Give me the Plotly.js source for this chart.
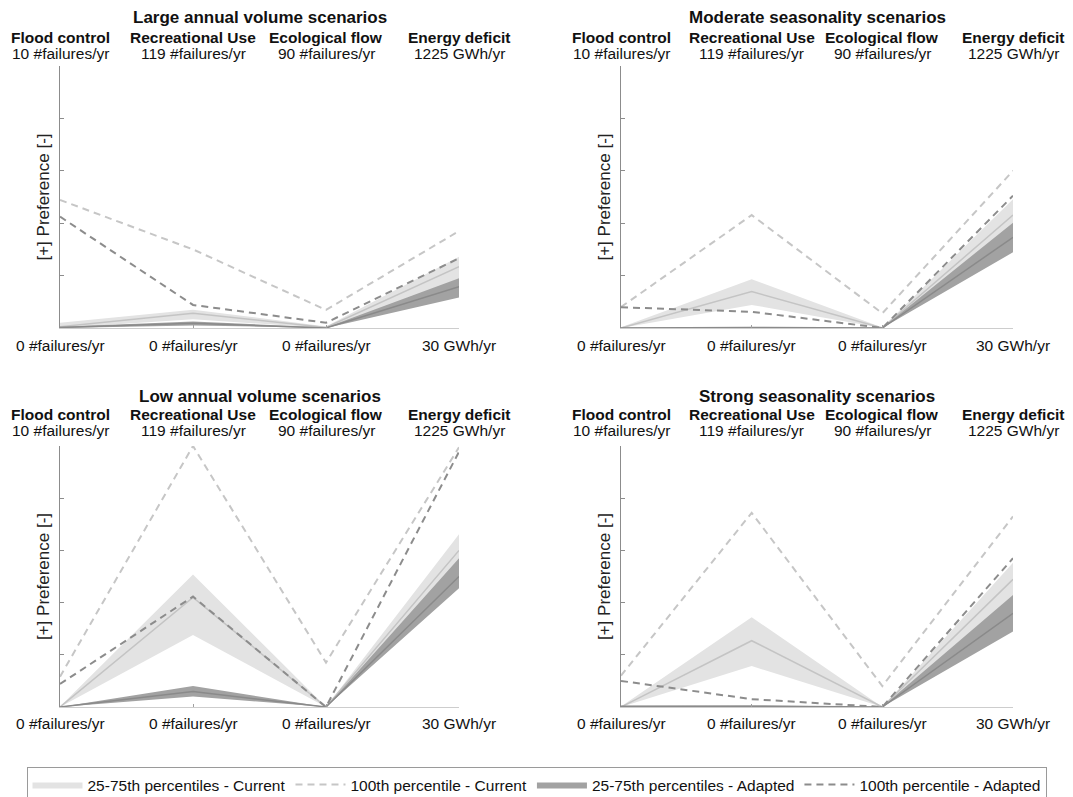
<!DOCTYPE html>
<html>
<head>
<meta charset="utf-8">
<script src="https://cdn.plot.ly/plotly-3.0.1.min.js"></script>
<style>
  html, body { margin: 0; padding: 0; background: #fff; }
  #chart { width: 1073px; height: 797px; }
</style>
</head>
<body>
<div id="chart"></div>
<script>
// Objectives shown on the four parallel axes
const objectiveNames = ['Flood control', 'Recreational Use', 'Ecological flow', 'Energy deficit'];
const objectiveWorst = ['10 #failures/yr', '119 #failures/yr', '90 #failures/yr', '1225 GWh/yr'];
const objectiveBest = ['0 #failures/yr', '0 #failures/yr', '0 #failures/yr', '30 GWh/yr'];
const axisPos = [0, 1, 2, 3];

const scenarioTitles = [
  'Large annual volume scenarios',
  'Moderate seasonality scenarios',
  'Low annual volume scenarios',
  'Strong seasonality scenarios'
];

// Normalised preference per objective: 25th / 50th / 75th / 100th percentiles
// Large annual volume
const largeCurP25 = [0.000, 0.033, 0.000, 0.145];
const largeCurP50 = [0.005, 0.056, 0.002, 0.234];
const largeCurP75 = [0.020, 0.070, 0.006, 0.272];
const largeCurMax = [0.489, 0.300, 0.069, 0.370];
const largeAdpP25 = [0.000, 0.010, 0.000, 0.116];
const largeAdpP50 = [0.002, 0.018, 0.000, 0.158];
const largeAdpP75 = [0.005, 0.025, 0.002, 0.190];
const largeAdpMax = [0.425, 0.088, 0.020, 0.266];

// Moderate seasonality
const modCurP25 = [0.000, 0.088, 0.000, 0.370];
const modCurP50 = [0.000, 0.139, 0.000, 0.431];
const modCurP75 = [0.003, 0.186, 0.002, 0.491];
const modCurMax = [0.080, 0.431, 0.056, 0.600];
const modAdpP25 = [0.000, 0.000, 0.000, 0.289];
const modAdpP50 = [0.000, 0.002, 0.000, 0.346];
const modAdpP75 = [0.002, 0.004, 0.001, 0.402];
const modAdpMax = [0.079, 0.062, 0.000, 0.505];

// Low annual volume
const lowCurP25 = [0.000, 0.276, 0.000, 0.460];
const lowCurP50 = [0.000, 0.420, 0.000, 0.600];
const lowCurP75 = [0.002, 0.508, 0.000, 0.662];
const lowCurMax = [0.116, 1.000, 0.170, 0.995];
const lowAdpP25 = [0.000, 0.040, 0.000, 0.455];
const lowAdpP50 = [0.000, 0.059, 0.000, 0.500];
const lowAdpP75 = [0.000, 0.080, 0.000, 0.570];
const lowAdpMax = [0.088, 0.423, 0.000, 0.978];

// Strong seasonality
const strongCurP25 = [0.000, 0.157, 0.000, 0.360];
const strongCurP50 = [0.000, 0.254, 0.000, 0.489];
const strongCurP75 = [0.002, 0.344, 0.000, 0.553];
const strongCurMax = [0.120, 0.744, 0.080, 0.730];
const strongAdpP25 = [0.000, 0.000, 0.000, 0.289];
const strongAdpP50 = [0.002, 0.003, 0.000, 0.359];
const strongAdpP75 = [0.006, 0.006, 0.001, 0.429];
const strongAdpMax = [0.100, 0.030, 0.000, 0.570];

const scenarios = [
  { cur: [largeCurP25, largeCurP50, largeCurP75, largeCurMax], adp: [largeAdpP25, largeAdpP50, largeAdpP75, largeAdpMax] },
  { cur: [modCurP25, modCurP50, modCurP75, modCurMax], adp: [modAdpP25, modAdpP50, modAdpP75, modAdpMax] },
  { cur: [lowCurP25, lowCurP50, lowCurP75, lowCurMax], adp: [lowAdpP25, lowAdpP50, lowAdpP75, lowAdpMax] },
  { cur: [strongCurP25, strongCurP50, strongCurP75, strongCurMax], adp: [strongAdpP25, strongAdpP50, strongAdpP75, strongAdpMax] }
];

const legendNames = [
  '25-75th percentiles - Current',
  '100th percentile - Current',
  '25-75th percentiles - Adapted',
  '100th percentile - Adapted'
];

// Style
const FONT = 'Liberation Sans, Arial, Helvetica, sans-serif';
const curFill = '#e3e3e3';
const curMedian = '#c4c4c4';
const curDash = '#c6c6c6';
const adpFill = '#a2a2a2';
const adpMedian = '#8a8a8a';
const adpDash = '#8c8c8c';
const DASH = '7px,5px';

// Panel placement (fractions of the figure)
const W = 1073, H = 797;
const colX = [[60, 459], [621, 1013]];
const rowY = [[66, 328], [446, 707]];
const titleY = [18, 396];
const headY = [37.5, 414.5];
const subY = [53, 430];
const botY = [345, 723];

const traces = [];
const layout = {
  width: W, height: H,
  margin: { l: 0, r: 0, t: 0, b: 0, autoexpand: false },
  paper_bgcolor: '#fff', plot_bgcolor: '#fff',
  font: { family: FONT, color: '#111' },
  showlegend: true,
  legend: {
    orientation: 'h', x: 0.5, xanchor: 'center', y: 1 - 767 / H, yanchor: 'top',
    bordercolor: '#9a9a9a', borderwidth: 1, bgcolor: '#fff',
    font: { size: 15.5, family: FONT, color: '#111' },
    itemwidth: 50, traceorder: 'normal'
  },
  annotations: []
};

scenarios.forEach((sc, i) => {
  const row = Math.floor(i / 2), col = i % 2;
  const xa = 'x' + (i + 1), ya = 'y' + (i + 1);
  const xKey = 'xaxis' + (i + 1), yKey = 'yaxis' + (i + 1);
  const topKey = 'xaxis' + (i + 5);
  const xd = [colX[col][0] / W, colX[col][1] / W];
  const yd = [1 - rowY[row][1] / H, 1 - rowY[row][0] / H];
  const first = i === 0;

  layout[xKey] = {
    domain: xd, anchor: ya, range: [0, 3], fixedrange: true,
    showline: true, linecolor: '#cdcdcd', linewidth: 1,
    tickmode: 'array', tickvals: axisPos, ticks: 'inside', ticklen: 3,
    tickcolor: '#a0a0a0', showticklabels: false, showgrid: false, zeroline: false
  };
  layout[topKey] = {
    overlaying: xa, anchor: ya, side: 'top', range: [0, 3], fixedrange: true,
    showline: false, tickmode: 'array', tickvals: axisPos.slice(1), ticks: 'inside',
    ticklen: 3, tickcolor: '#a0a0a0', showticklabels: false, showgrid: false, zeroline: false
  };
  layout[yKey] = {
    domain: yd, anchor: xa, range: [0, 1], fixedrange: true,
    showline: true, linecolor: '#8c8c8c', linewidth: 1,
    tickmode: 'array', tickvals: [0.2, 0.4, 0.6, 0.8], ticks: 'inside', ticklen: 4,
    tickcolor: '#8c8c8c', showticklabels: false, showgrid: false, zeroline: false,
    title: { text: '[+] Preference [-]', font: { size: 17, family: FONT, color: '#222' }, standoff: 5 }
  };

  // Current: interquartile band and median
  traces.push({ x: axisPos, y: sc.cur[0], xaxis: xa, yaxis: ya, mode: 'lines',
    line: { width: 0, color: curFill }, showlegend: false, hoverinfo: 'skip' });
  traces.push({ x: axisPos, y: sc.cur[2], xaxis: xa, yaxis: ya, mode: 'lines', fill: 'tonexty',
    fillcolor: curFill, line: { width: 0, color: curFill }, name: legendNames[0],
    legendrank: 1, showlegend: first, hoverinfo: 'skip' });
  traces.push({ x: axisPos, y: sc.cur[1], xaxis: xa, yaxis: ya, mode: 'lines',
    line: { width: 1.5, color: curMedian }, showlegend: false, hoverinfo: 'skip' });

  // Adapted: interquartile band and median
  traces.push({ x: axisPos, y: sc.adp[0], xaxis: xa, yaxis: ya, mode: 'lines',
    line: { width: 0, color: adpFill }, showlegend: false, hoverinfo: 'skip' });
  traces.push({ x: axisPos, y: sc.adp[2], xaxis: xa, yaxis: ya, mode: 'lines', fill: 'tonexty',
    fillcolor: adpFill, line: { width: 0, color: adpFill }, name: legendNames[2],
    legendrank: 3, showlegend: first, hoverinfo: 'skip' });
  traces.push({ x: axisPos, y: sc.adp[1], xaxis: xa, yaxis: ya, mode: 'lines',
    line: { width: 1.5, color: adpMedian }, showlegend: false, hoverinfo: 'skip' });

  // 100th percentile envelopes
  traces.push({ x: axisPos, y: sc.cur[3], xaxis: xa, yaxis: ya, mode: 'lines',
    line: { width: 2, color: curDash, dash: DASH }, name: legendNames[1],
    legendrank: 2, showlegend: first, hoverinfo: 'skip' });
  traces.push({ x: axisPos, y: sc.adp[3], xaxis: xa, yaxis: ya, mode: 'lines',
    line: { width: 2, color: adpDash, dash: DASH }, name: legendNames[3],
    legendrank: 4, showlegend: first, hoverinfo: 'skip' });

  // Panel title
  layout.annotations.push({
    text: '<b>' + scenarioTitles[i] + '</b>', xref: 'paper', yref: 'paper',
    x: (xd[0] + xd[1]) / 2, y: 1 - titleY[row] / H, xanchor: 'center', yanchor: 'middle',
    showarrow: false, font: { size: 17, family: FONT, color: '#111' }
  });
  // Axis headers, worst values on top, best values below
  objectiveNames.forEach((nm, k) => {
    layout.annotations.push({
      text: '<b>' + nm + '</b>', xref: xa, yref: 'paper', x: axisPos[k],
      y: 1 - headY[row] / H, xanchor: 'center', yanchor: 'middle', showarrow: false,
      font: { size: 15.5, family: FONT, color: '#111' }
    });
    layout.annotations.push({
      text: objectiveWorst[k], xref: xa, yref: 'paper', x: axisPos[k],
      y: 1 - subY[row] / H, xanchor: 'center', yanchor: 'middle', showarrow: false,
      font: { size: 15.5, family: FONT, color: '#111' }
    });
    layout.annotations.push({
      text: objectiveBest[k], xref: xa, yref: 'paper', x: axisPos[k],
      y: 1 - botY[row] / H, xanchor: 'center', yanchor: 'middle', showarrow: false,
      font: { size: 15.5, family: FONT, color: '#111' }
    });
  });
});

Plotly.newPlot('chart', traces, layout, { displayModeBar: false, staticPlot: true });
</script>
</body>
</html>
